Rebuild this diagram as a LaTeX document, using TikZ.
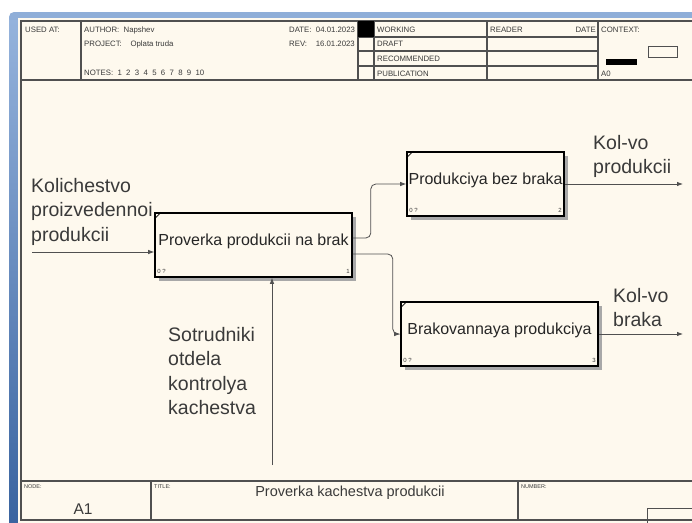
\documentclass[tikz,border=0pt]{standalone}
\usepackage{fontspec}
\setmainfont{Liberation Sans}
\usetikzlibrary{calc,arrows.meta}
\definecolor{cream}{HTML}{FEF9EE}
\definecolor{blueA}{HTML}{95B3DC}
\definecolor{blueB}{HTML}{3A64A0}
\definecolor{blueT}{HTML}{8FAED8}
\definecolor{frame}{HTML}{505050}
\definecolor{txt}{HTML}{3A3A3A}
\definecolor{shadowgray}{HTML}{A8A8A8}
\begin{document}
\begin{tikzpicture}[x=1pt,y=-1pt,
  frameline/.style={draw=frame,line width=1.1pt},
  hdr/.style={font=\fontsize{7.8}{8.5}\selectfont, text=txt, inner sep=0, anchor=base west},
  tinytext/.style={font=\fontsize{5.5}{6}\selectfont, text=txt, inner sep=0, anchor=base west},
  procbox/.style={draw=black, line width=1.6pt, fill=cream, inner sep=0,
     preaction={fill=shadowgray, transform canvas={shift={(4pt,-4pt)}}}},
  boxtext/.style={font=\fontsize{16}{18}\selectfont, inner sep=0, anchor=base, text=black!85},
  cornerlbl/.style={font=\fontsize{6}{6.5}\selectfont, text=txt, inner sep=0},
  biglbl/.style={font=\fontsize{19.5}{24.5}\selectfont, align=left, inner sep=0, anchor=north west, text=txt},
  arr/.style={draw=frame, line width=0.8pt, rounded corners=5pt, -{Latex[length=6pt,width=4.5pt]}}
]
\useasboundingbox (0,0) rectangle (692,522);
\clip (0,0) rectangle (692,522);
\fill[white] (0,0) rectangle (692,522);
% blue window frame
\fill[blueT, rounded corners=5pt] (9,530) -- (9,12) -- (700,12) -- (700,18) -- (18,18) -- (18,530) -- cycle;
\shade[top color=blueA, bottom color=blueB] (9,20) rectangle (18,522);
\fill[cream] (18,18) rectangle (700,530);
% drawing frame
\draw[frameline] (21,21) rectangle (710,520);
\draw[frameline] (21,80) -- (710,80);
\draw[frameline] (81,21) -- (81,80);
\draw[frameline] (358,21) -- (358,80);
\draw[frameline] (374,21) -- (374,80);
\draw[frameline] (487,21) -- (487,80);
\draw[frameline] (598,21) -- (598,80);
\foreach \yy in {37,51,66} \draw[frameline] (358,\yy) -- (598,\yy);
\fill[black] (358,21) rectangle (374,37);
% header texts
\node[hdr] (usedat) at (25,32) {USED AT:};
\node[hdr] (author) at (84,32) {AUTHOR:\ \ Napshev};
\node[hdr] (project) at (84,46) {PROJECT:\ \ \ \ Oplata truda};
\node[hdr] (notes) at (84,75) {NOTES:\ \ 1\ \ 2\ \ 3\ \ 4\ \ 5\ \ 6\ \ 7\ \ 8\ \ 9\ \ 10};
\node[hdr] (date) at (289,32) {DATE:\ \ 04.01.2023};
\node[hdr] (rev) at (289,46) {REV:\ \ \ \ 16.01.2023};
\node[hdr] (working) at (377,32) {WORKING};
\node[hdr] (draft) at (377,46) {DRAFT};
\node[hdr] (recom) at (377,61) {RECOMMENDED};
\node[hdr] (publ) at (377,76) {PUBLICATION};
\node[hdr] (reader) at (490,32) {READER};
\node[hdr, anchor=base east] (rdate) at (596,32) {DATE};
\node[hdr] (context) at (601,32) {CONTEXT:};
\node[hdr] (a0) at (601,76) {A0};
\draw[frame, line width=0.8pt] (648,46) rectangle (677,57);
\fill[black] (606,59) rectangle (637,65);
% footer
\draw[frameline] (21,481) -- (710,481);
\draw[frameline] (151,481) -- (151,520);
\draw[frameline] (518,481) -- (518,520);
\draw[frame, line width=0.8pt] (647,508) rectangle (710,530);
\node[tinytext] (nodelbl) at (24,488) {NODE:};
\node[tinytext] (titlelbl) at (154,488) {TITLE:};
\node[tinytext] (numlbl) at (521,488) {NUMBER:};
\node[font=\fontsize{15.5}{17}\selectfont, anchor=base, inner sep=0, text=txt] (a1) at (83,514) {A1};
\node[font=\fontsize{14.5}{16}\selectfont, anchor=base, inner sep=0, text=txt] (title) at (350,496) {Proverka kachestva produkcii};
% boxes
\node[procbox, minimum width=197pt, minimum height=64pt] (b1) at (253.5,245) {};
\node[procbox, minimum width=157pt, minimum height=64pt] (b2) at (485.5,184) {};
\node[procbox, minimum width=197pt, minimum height=64pt] (b3) at (499.5,334) {};
\node[boxtext] (t1) at (b1.center) {Proverka produkcii na brak};
\node[boxtext] (t2) at (b2.center) {Produkciya bez braka};
\node[boxtext] (t3) at (b3.center) {Brakovannaya produkciya};
\foreach \b/\n in {b1/1,b2/2,b3/3}{
  \draw[line width=0.8pt] ($(\b.north west)+(0,7)$) -- ($(\b.north west)+(7,0)$);
  \node[cornerlbl, anchor=base west] (\b zero) at ($(\b.south west)+(3,-4)$) {0 ?};
  \node[cornerlbl, anchor=base east] (\b num) at ($(\b.south east)+(-3,-4)$) {\n};
}
% labels
\node[biglbl] (L1) at (31,178) {Kolichestvo\\proizvedennoi\\produkcii};
\node[biglbl] (L2) at (168,327) {Sotrudniki\\otdela\\kontrolya\\kachestva};
\node[biglbl] (L3) at (593,135) {Kol-vo\\produkcii};
\node[biglbl] (L4) at (613,288) {Kol-vo\\braka};
% connectors
\coordinate (in1) at (32,252);
\coordinate (c1) at (272,465);
\coordinate (o1) at (683,182);
\coordinate (o2) at (683,333);
\draw[arr] (in1) -- (in1 -| b1.west);
\draw[arr] (c1) -- (c1 |- b1.south);
\draw[arr] ($(b1.east)+(0,-7)$) -- ++(18,0) |- (b2.west);
\draw[arr] ($(b1.east)+(0,9)$) -- ++(40,0) |- (b3.west);
\draw[arr] (b2.east) -- (b2.east -| o1);
\draw[arr] (b3.east) -- (b3.east -| o2);
\end{tikzpicture}
\end{document}
